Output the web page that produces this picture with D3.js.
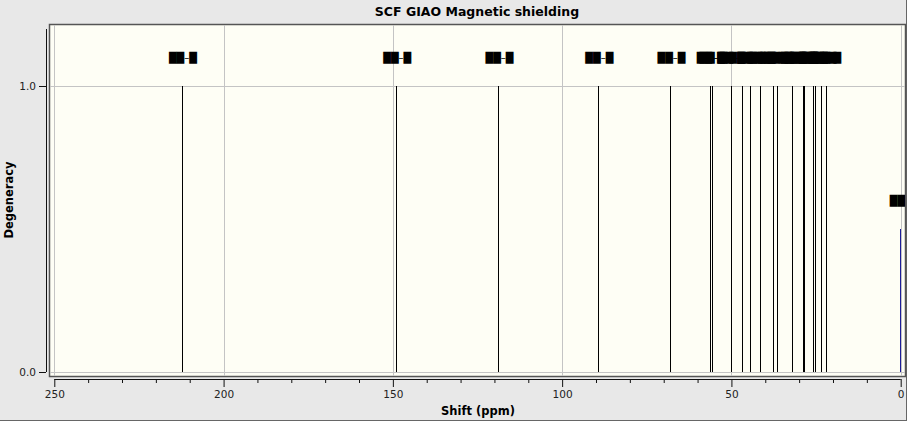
<!DOCTYPE html>
<html>
<head>
<meta charset="utf-8">
<script src="https://cdn.jsdelivr.net/npm/d3@7"></script>
<style>
  body { margin: 0; background: #e8e8e8; }
  svg { display: block; }
  text { font-family: "DejaVu Sans", sans-serif; }
</style>
</head>
<body>
<svg width="907" height="421"></svg>
<script>
// chemical shifts (ppm) of the black peaks, all degeneracy 1
var shifts = [212.3, 149.0, 118.8, 89.3, 68.0, 56.4, 55.6, 50.2, 46.8, 44.4, 41.5,
  37.6, 36.5, 32.2, 29.0, 28.7, 26.0, 25.3, 23.4, 22.0];
var degeneracy = [1, 1, 1, 1, 1, 1, 1, 1, 1, 1, 1, 1, 1, 1, 1, 1, 1, 1, 1, 1];
// reference peak (blue) at 0 ppm
var refShift = [0.0];
var refHeight = [0.5];
// peak labels (render as blocks)
var peakLabel = "\u2588\u2588\u2013\u2588";
var refLabel = "\u2588\u2588";
var xTicks = [250, 200, 150, 100, 50, 0];
var yTicks = [0, 1];

var svg = d3.select("svg");

var x = d3.scaleLinear().domain([250, 0]).range([54.3, 900.7]);
var y = d3.scaleLinear().domain([0, 1]).range([372, 86]);

// outer window edge
svg.append("line").attr("x1", 906.5).attr("x2", 906.5).attr("y1", 0).attr("y2", 421)
  .style("stroke", "#666");
svg.append("line").attr("x1", 0).attr("x2", 907).attr("y1", 420.5).attr("y2", 420.5)
  .style("stroke", "#666");

// plot frame
svg.append("rect")
  .attr("x", 49.5).attr("y", 24.5)
  .attr("width", 856).attr("height", 352)
  .attr("fill", "#fefef5")
  .style("stroke", "#555")
  .style("stroke-width", 1.5);

svg.append("defs").append("clipPath").attr("id", "clip")
  .append("rect").attr("x", 50).attr("y", 25).attr("width", 855).attr("height", 351);

var plot = svg.append("g").attr("clip-path", "url(#clip)");

// grid
plot.selectAll(".vgrid")
  .data(xTicks)
  .enter().append("line")
  .attr("class", "vgrid")
  .attr("x1", function(d) { return Math.round(x(d)) + 0.5; })
  .attr("x2", function(d) { return Math.round(x(d)) + 0.5; })
  .attr("y1", 25).attr("y2", 376)
  .style("stroke", "#c4c4c4");

plot.selectAll(".hgrid")
  .data(yTicks)
  .enter().append("line")
  .attr("class", "hgrid")
  .attr("x1", 50).attr("x2", 905)
  .attr("y1", function(d) { return Math.round(y(d)) + 0.5; })
  .attr("y2", function(d) { return Math.round(y(d)) + 0.5; })
  .style("stroke", "#c4c4c4");

// peaks
plot.selectAll(".peak")
  .data(shifts)
  .enter().append("line")
  .attr("class", "peak")
  .attr("x1", function(d) { return Math.round(x(d)) + 0.5; })
  .attr("x2", function(d) { return Math.round(x(d)) + 0.5; })
  .attr("y1", y(0))
  .attr("y2", function(d, i) { return y(degeneracy[i]); })
  .style("stroke", "black");

plot.selectAll(".refpeak")
  .data(refShift)
  .enter().append("line")
  .attr("class", "refpeak")
  .attr("x1", function(d) { return Math.round(x(d)) - 0.5; })
  .attr("x2", function(d) { return Math.round(x(d)) - 0.5; })
  .attr("y1", y(0))
  .attr("y2", function(d, i) { return y(refHeight[i]); })
  .style("stroke", "#1c1c99");

// labels
plot.selectAll(".plabel")
  .data(shifts)
  .enter().append("text")
  .attr("class", "plabel")
  .attr("x", function(d) { return x(d) + 1; })
  .attr("y", function(d, i) { return y(degeneracy[i] + 0.1) + 4; })
  .attr("text-anchor", "middle")
  .style("font-size", "10px")
  .text(peakLabel);

plot.selectAll(".rlabel")
  .data(refShift)
  .enter().append("text")
  .attr("class", "rlabel")
  .attr("x", function(d) { return x(d) - 11; })
  .attr("y", function(d, i) { return y(refHeight[i] + 0.1) + 4; })
  .style("font-size", "10px")
  .text(refLabel);

// x axis
var xAxis = d3.axisBottom(x)
  .tickValues(d3.range(0, 251, 10))
  .tickSize(4)
  .tickFormat(function(d) { return xTicks.indexOf(d) >= 0 ? d : ""; });

var gx = svg.append("g")
  .attr("transform", "translate(0,379)")
  .call(xAxis);
gx.select(".domain").attr("d", "M" + x(250) + ",0.5H" + x(0)).style("stroke", "#111");
gx.selectAll(".tick line")
  .attr("y2", function(d) { return xTicks.indexOf(d) >= 0 ? 8 : 4; })
  .style("stroke", "#111");
gx.selectAll(".tick text")
  .attr("y", 12)
  .style("font-size", "10.5px")
  .style("fill", "#222");

// y axis
var yAxis = d3.axisLeft(y)
  .tickValues(yTicks)
  .tickSize(7)
  .tickFormat(d3.format(".1f"));

var gy = svg.append("g")
  .attr("transform", "translate(46,0)")
  .call(yAxis);
gy.select(".domain").attr("d", "M0.5,29V" + y(0)).style("stroke", "#111");
gy.selectAll(".tick line").style("stroke", "#111");
gy.selectAll(".tick text")
  .attr("x", -10)
  .style("font-size", "10.5px")
  .style("fill", "#222");

// titles
svg.append("text")
  .attr("x", 477).attr("y", 16)
  .attr("text-anchor", "middle")
  .style("font-size", "12.5px")
  .style("font-weight", "bold")
  .text("SCF GIAO Magnetic shielding");

svg.append("text")
  .attr("x", 478).attr("y", 415)
  .attr("text-anchor", "middle")
  .style("font-size", "11.5px")
  .style("font-weight", "bold")
  .text("Shift (ppm)");

svg.append("text")
  .attr("transform", "translate(13,200) rotate(-90)")
  .attr("text-anchor", "middle")
  .style("font-size", "11.5px")
  .style("font-weight", "bold")
  .text("Degeneracy");
</script>
</body>
</html>
